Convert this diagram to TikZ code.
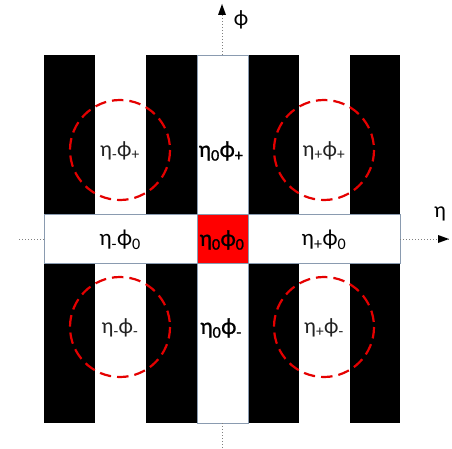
\documentclass[tikz,border=0pt]{standalone}
\usepackage{fontspec}
\setmainfont{Carlito}
\newfontfamily\semib[FakeBold=1.2]{Carlito}
\usetikzlibrary{arrows.meta}
\definecolor{edgegray}{HTML}{8A9BB0}
\definecolor{textgray}{HTML}{222222}
\newcommand{\ph}{ϕ}
\tikzset{
  blk/.style={fill=black,draw=none},
  wcol/.style={fill=white,draw=none},
  strip/.style={fill=white,draw=edgegray,line width=0.8pt},
  center/.style={fill=red,draw=edgegray,line width=0.8pt},
  ring/.style={draw=red!90!black,line width=2.2pt,dash pattern=on 11.5pt off 6pt},
  lab/.style={font=\fontsize{23}{25}\selectfont,text=black,inner sep=0pt},
  blab/.style={font=\fontsize{23}{25}\selectfont\semib,text=black,inner sep=0pt},
  clab/.style={font=\fontsize{22}{24}\selectfont,text=textgray,inner sep=0pt},
  axis/.style={draw=gray,line width=1pt,dotted},
}
\begin{document}
\begin{tikzpicture}[x=1pt,y=-1pt]
\useasboundingbox (0,0) rectangle (452,449);
% background pattern
\path[blk] (44,55) rectangle (400,423);
\path[wcol] (95,55) rectangle (146,423);
\path[wcol] (299,55) rectangle (350,423);
% central column and horizontal strip
\path[strip] (197,55) rectangle (248,423);
\path[strip] (44,214) rectangle (400,263);
\path[center] (197,214) rectangle (248,263);
% axes
\coordinate (ytop) at (222,4);
\coordinate (ybot) at (222,448);
\coordinate (xleft) at (19,239);
\coordinate (xright) at (449,239);
\coordinate (sqtop) at (222,55);
\coordinate (sqbot) at (222,423);
\coordinate (sqleft) at (44,239);
\coordinate (sqright) at (400,239);
\draw[axis] (sqbot) -- (ybot);
\draw[axis] (xleft) -- (sqleft);
\draw[axis] (sqtop) -- (ytop);
\draw[axis] (sqright) -- (xright);
\fill[black] (ytop) -- ++(-4,11) -- ++(8,0) -- cycle;
\fill[black] (xright) -- ++(-11,-4) -- ++(0,8) -- cycle;
\node[lab,font=\fontsize{22}{24}\selectfont] (phi) at (241,20) {\ph};
\node[lab,font=\fontsize{22}{24}\selectfont] (eta) at (440,214) {η};
% circles
\draw[ring] (120,150) circle (50);
\draw[ring] (324,150) circle (50);
\draw[ring] (120,327) circle (50);
\draw[ring] (324,327) circle (50);
% labels
\node[clab] (mp) at (120,151) {η\textsubscript{-}\ph\textsubscript{+}};
\node[clab] (pp) at (324,151) {η\textsubscript{+}\ph\textsubscript{+}};
\node[clab] (mm) at (120,328) {η\textsubscript{-}\ph\textsubscript{-}};
\node[clab] (pm) at (324,328) {η\textsubscript{+}\ph\textsubscript{-}};
\node[blab] (zp) at (221,151) {η\textsubscript{0}\ph\textsubscript{+}};
\node[blab] (zm) at (221,328) {η\textsubscript{0}\ph\textsubscript{-}};
\node[lab] (mz) at (120,240) {η\textsubscript{-}\ph\textsubscript{0}};
\node[blab] (zz) at (222,240) {η\textsubscript{0}\ph\textsubscript{0}};
\node[lab] (pz) at (324,240) {η\textsubscript{+}\ph\textsubscript{0}};
\end{tikzpicture}
\end{document}
